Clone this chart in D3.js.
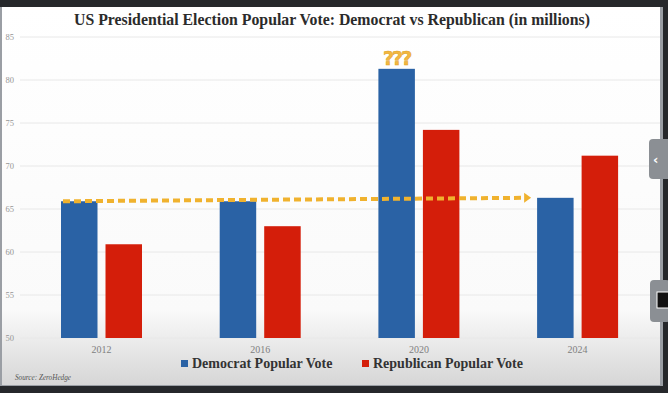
<!DOCTYPE html>
<html>
<head>
<meta charset="utf-8">
<script src="https://cdn.jsdelivr.net/npm/d3@7"></script>
<style>
body { margin:0; background:#222; }
svg { display:block; }
</style>
</head>
<body>
<svg id="chart" width="668" height="393"></svg>
<script>
// data
const years = ["2012", "2016", "2020", "2024"]
const democrat = [65.9, 65.9, 81.3, 66.3]
const republican = [60.9, 63.0, 74.2, 71.2]
const yTicks = [50, 55, 60, 65, 70, 75, 80, 85]
const seriesNames = ["Democrat Popular Vote", "Republican Popular Vote"]
const colors = ["#2a62a5", "#d41e0a"]

var width = 668, height = 393

var svg = d3.select("#chart")

// screen frame
var defs = svg.append("defs")
var grad = defs.append("linearGradient").attr("id", "bg").attr("x1", 0).attr("y1", 0).attr("x2", 0).attr("y2", 1)
grad.append("stop").attr("offset", "0%").attr("stop-color", "#ffffff")
grad.append("stop").attr("offset", "80%").attr("stop-color", "#fafafa")
grad.append("stop").attr("offset", "100%").attr("stop-color", "#d6d6d6")

svg.append("rect").attr("x", 0).attr("y", 0).attr("width", width).attr("height", height).attr("fill", "#26282b")
svg.append("rect").attr("x", 0).attr("y", 7).attr("width", 663).attr("height", 379).attr("fill", "#9a9ea4")
svg.append("rect").attr("x", 2).attr("y", 7).attr("width", 658).attr("height", 378).attr("fill", "url(#bg)")

var x0 = 20, x1 = 660
var y = d3.scaleLinear().domain([50, 85]).range([338, 37])
var x = d3.scaleBand().domain(years).range([x0, x0 + 4 * 158.7])
// two bars inside each year band
var xs = d3.scaleBand().domain([0, 1]).range([41, 122]).paddingInner(0.18)

// gridlines
svg.append("g").selectAll("line").data(yTicks).join("line")
    .attr("x1", x0).attr("x2", x1)
    .attr("y1", d => y(d)).attr("y2", d => y(d))
    .attr("stroke", "#e8e8e8").attr("stroke-width", 1)

// y axis labels
var yAxis = d3.axisLeft(y).tickValues(yTicks).tickSize(0).tickPadding(0)
svg.append("g").attr("transform", "translate(14,0)").call(yAxis)
    .call(g => g.select(".domain").remove())
    .call(g => g.selectAll("text").attr("fill", "#959595").attr("font-family", "Liberation Serif, serif").attr("font-size", 8.5))

// bars
var rows = years.map((yr, i) => ({year: yr, vals: [democrat[i], republican[i]]}))
svg.append("g").selectAll("g").data(rows).join("g")
    .attr("transform", d => `translate(${x(d.year)},0)`)
    .selectAll("rect").data(d => d.vals.map((v, k) => ({v, k}))).join("rect")
    .attr("x", d => xs(d.k)).attr("width", xs.bandwidth())
    .attr("y", d => y(d.v)).attr("height", d => y(50) - y(d.v))
    .attr("fill", d => colors[d.k])

// x labels, centred under each bar pair
var groupMid = (41 + 122) / 2 - x.bandwidth() / 2
var xAxis = d3.axisBottom(x).tickSize(0).tickPadding(0)
svg.append("g").attr("transform", "translate(0,346)").call(xAxis)
    .call(g => g.select(".domain").remove())
    .call(g => g.selectAll("text").attr("fill", "#808080").attr("font-family", "Liberation Serif, serif").attr("font-size", 10)
        .attr("dx", groupMid))

// dashed trend arrow from 2012 democrat to 2024 democrat
var ax1 = x("2012") + xs(0) + 2, ay1 = y(democrat[0])
var ax2 = x("2024") + xs(0) - 12, ay2 = y(democrat[3])
svg.append("line").attr("x1", ax1).attr("y1", ay1).attr("x2", ax2).attr("y2", ay2)
    .attr("stroke", "#f0b22e").attr("stroke-width", 4).attr("stroke-dasharray", "7,4")
svg.append("path")
    .attr("d", `M${ax2 - 1},${ay2 - 5} L${ax2 + 6},${ay2} L${ax2 - 1},${ay2 + 5} Z`)
    .attr("fill", "#f0b22e")

// question marks above 2020
svg.append("text").attr("x", x("2020") + xs(0) + xs.bandwidth() / 2).attr("y", 65)
    .attr("text-anchor", "middle").attr("font-family", "DejaVu Sans, sans-serif").attr("font-weight", "bold")
    .attr("font-size", 19).attr("letter-spacing", -2).attr("fill", "#f3b740").attr("stroke", "#e0a020").attr("stroke-width", 0.5)
    .text("???")

// title
svg.append("text").attr("x", 332).attr("y", 25).attr("text-anchor", "middle")
    .attr("font-family", "Liberation Serif, serif").attr("font-weight", "bold").attr("font-size", 15.8)
    .attr("fill", "#2b2b2b").text("US Presidential Election Popular Vote: Democrat vs Republican (in millions)")

// legend
var legX = [181, 362]
var leg = svg.append("g").selectAll("g").data(seriesNames).join("g")
    .attr("transform", (d, i) => `translate(${legX[i]},368)`)
leg.append("rect").attr("x", 0).attr("y", -8).attr("width", 7).attr("height", 7).attr("fill", (d, i) => colors[i])
leg.append("text").attr("x", 11).attr("y", 0).attr("font-family", "Liberation Serif, serif").attr("font-weight", "bold")
    .attr("font-size", 14).attr("fill", "#333").text(d => d)

// source
svg.append("text").attr("x", 15).attr("y", 380).attr("font-family", "Liberation Serif, serif").attr("font-style", "italic")
    .attr("font-size", 7.2).attr("fill", "#555").text("Source: ZeroHedge")

// side tabs of the viewer
svg.append("rect").attr("x", 649).attr("y", 139).attr("width", 22).attr("height", 40).attr("rx", 4).attr("fill", "#8b8f94")
svg.append("text").attr("x", 653).attr("y", 164).attr("fill", "#fff").attr("font-family", "DejaVu Sans, sans-serif").attr("font-weight", "bold").attr("font-size", 13).text("‹")
svg.append("rect").attr("x", 650).attr("y", 280).attr("width", 20).attr("height", 42).attr("rx", 4).attr("fill", "#8b8f94")
svg.append("rect").attr("x", 657).attr("y", 292).attr("width", 12).attr("height", 16).attr("fill", "#111").attr("stroke", "#fff")
</script>
</body>
</html>
